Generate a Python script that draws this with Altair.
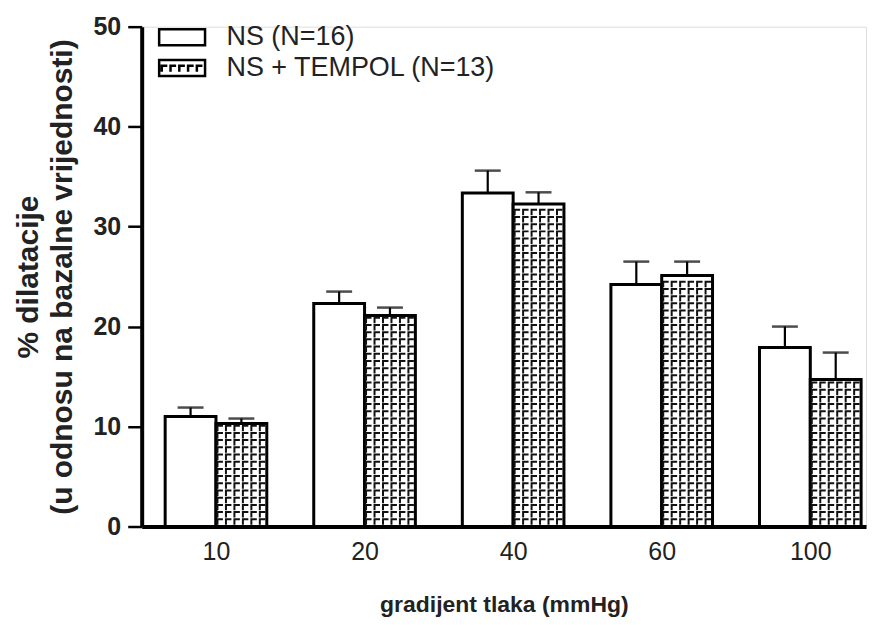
import altair as alt
import pandas as pd

# ---- data ----
categories = ["10", "20", "40", "60", "100"]
groups = ["NS (N=16)", "NS + TEMPOL (N=13)"]
ns_mean = [11.0, 22.3, 33.35, 24.2, 17.9]
ns_sem = [0.9, 1.2, 2.25, 2.3, 2.1]
tempol_mean = [10.3, 21.1, 32.25, 25.1, 14.7]
tempol_sem = [0.5, 0.8, 1.18, 1.4, 2.7]

BAR_W = 0.342  # width of one bar in category units

rows = []
for i, c in enumerate(categories):
    rows.append(dict(cat=c, idx=i, group=groups[0], mean=ns_mean[i], sem=ns_sem[i],
                     x0=i - BAR_W, x1=i))
    rows.append(dict(cat=c, idx=i, group=groups[1], mean=tempol_mean[i], sem=tempol_sem[i],
                     x0=i, x1=i + BAR_W))
df = pd.DataFrame(rows)
df["xc"] = (df["x0"] + df["x1"]) / 2
df["top"] = df["mean"] + df["sem"]

# hatch texture inside the TEMPOL bars (derived from the bar values)
pat = []
ncol = 6
for i, v in enumerate(tempol_mean):
    y = 0.45
    while y < v - 0.4:
        for k in range(ncol):
            pat.append(dict(px=i + BAR_W * (k + 0.5) / ncol, py=y))
        y += 0.72
pat_df = pd.DataFrame(pat)

FONT = "Liberation Sans"
xscale = alt.Scale(domain=[-0.5, 4.375], nice=False, zero=False)
yscale = alt.Scale(domain=[0, 50], nice=False, zero=True)

label_expr = "[" + ",".join("'%s'" % c for c in categories) + "][datum.value]"

bars = alt.Chart(df).mark_rect(fill="white", stroke="black", strokeWidth=3).encode(
    x=alt.X("x0:Q", scale=xscale, axis=alt.Axis(
        values=[0, 1, 2, 3, 4], labelExpr=label_expr, ticks=False, grid=False,
        domainColor="black", domainWidth=4, labelFont=FONT, labelFontSize=25,
        labelColor="#222", labelPadding=13, labelFlush=False,
        title="gradijent tlaka (mmHg)", titleFont=FONT, titleFontSize=23,
        titleFontWeight="bold", titleColor="#222", titlePadding=29)),
    x2="x1:Q",
    y=alt.Y("mean:Q", scale=yscale, axis=alt.Axis(
        values=[0, 10, 20, 30, 40, 50], grid=False, domainColor="black", domainWidth=4,
        tickColor="black", tickWidth=2.5, tickSize=14, labelFont=FONT, labelFontSize=25,
        labelFontWeight="bold", labelColor="#222", labelPadding=7,
        title=["% dilatacije", "(u odnosu na bazalne vrijednosti)"], titleFont=FONT,
        titleFontSize=30, titleFontWeight="bold", titleColor="#222", titleLineHeight=34,
        titlePadding=16)),
    y2=alt.Y2(datum=0),
)

pattern = alt.Chart(pat_df).mark_point(
    shape="M-1,1V-1H1", size=30, filled=False, stroke="#111", strokeWidth=2, opacity=1
).encode(
    x=alt.X("px:Q", scale=xscale),
    y=alt.Y("py:Q", scale=yscale),
)

stems = alt.Chart(df).mark_rule(color="black", strokeWidth=2.2).encode(
    x=alt.X("xc:Q", scale=xscale),
    y=alt.Y("mean:Q", scale=yscale),
    y2="top:Q",
)

caps = alt.Chart(df).mark_tick(orient="horizontal", size=26, thickness=2.5, color="black").encode(
    x=alt.X("xc:Q", scale=xscale),
    y=alt.Y("top:Q", scale=yscale),
)

path_ns = "M-2.875,-1H2.875V1H-2.875Z"
marks = "".join("M%.2f,0.45V-0.3H%.2f" % (cx - 0.35, cx + 0.35) for cx in [-2.2, -1.1, 0, 1.1, 2.2])
path_tp = "M-2.875,-1H2.875V1H-2.875Z" + marks

legend_layer = alt.Chart(df).mark_point(
    filled=False, color="black", strokeWidth=2.5
).encode(
    x=alt.X("xc:Q", scale=xscale),
    y=alt.Y("mean:Q", scale=yscale),
    shape=alt.Shape("group:N", scale=alt.Scale(domain=groups, range=[path_ns, path_tp]),
                    legend=alt.Legend(title=None, orient="none", legendX=27, legendY=-3,
                                      labelFont=FONT, labelFontSize=27, labelColor="#222",
                                      symbolSize=256, symbolStrokeWidth=2.5,
                                      symbolStrokeColor="black",
                                      symbolOpacity=1, labelOffset=31, rowPadding=3,
                                      padding=0, labelLimit=400)),
).transform_filter("false")

chart = alt.layer(bars, pattern, stems, caps, legend_layer).properties(
    width=726, height=501,
    autosize=alt.AutoSizeParams(type="none"),
    padding={"left": 134, "top": 18, "right": 6, "bottom": 98},
).configure_view(strokeWidth=0).configure(background="white")

chart.save("out.html", embed_options={"renderer": "svg", "actions": False})
